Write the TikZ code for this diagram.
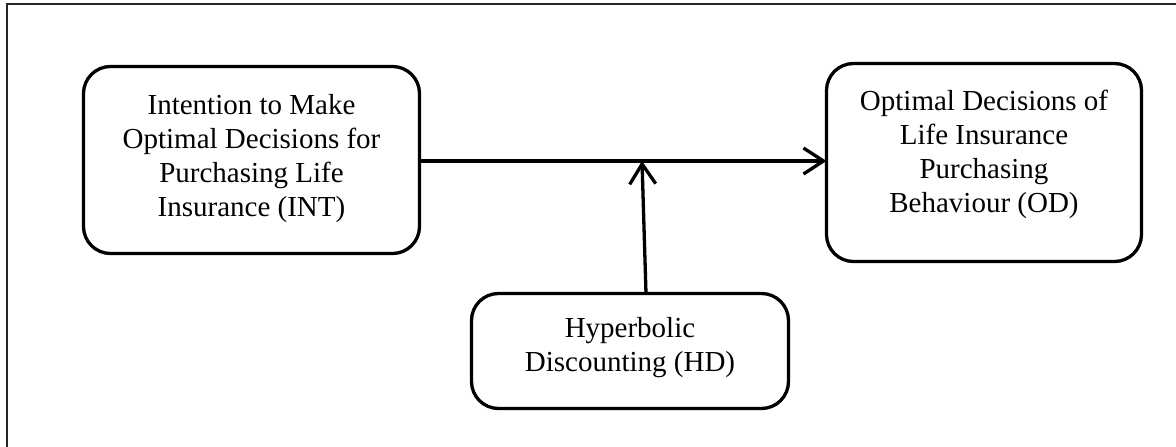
\documentclass[tikz,border=0pt]{standalone}
\usepackage{fontspec}
\setmainfont{Liberation Serif}
\usetikzlibrary{arrows.meta,calc}

% centred stack of lines, drawn #1 higher than its nominal box
\newcommand{\liftlines}[2]{\raisebox{#1}[\height][\depth]{\begin{tabular}{@{}c@{}}#2\end{tabular}}}

\tikzset{
  box/.style={draw=black, line width=3.3pt, rounded corners=27pt,
    inner sep=0pt, outer sep=0pt,
    font=\fontsize{29}{34}\selectfont},
  link/.style={draw=black, line width=3.3pt,
    -{Straight Barb[length=20pt,width=26pt,line width=3.3pt]}},
  frame/.style={draw=black!85, line width=1.5pt}
}

\begin{document}
\begin{tikzpicture}[x=1pt, y=-1pt]
  \useasboundingbox (0,0) rectangle (1176,447);

  % page frame (top and left edges)
  \coordinate (frameTR) at (1176,4);
  \coordinate (frameTL) at (7,4);
  \coordinate (frameBL) at (7,447);
  \draw[frame] (frameTR) -- (frameTL) -- (frameBL);

  % constructs
  \node[box, minimum width=336pt, minimum height=187pt] (int) at (251.5,160)
    {\liftlines{1pt}{Intention to Make\\Optimal Decisions for\\Purchasing Life\\Insurance (INT)}};
  \node[box, minimum width=315pt, minimum height=198pt] (od) at (984,162.5)
    {\liftlines{8pt}{Optimal Decisions of\\Life Insurance\\Purchasing\\Behaviour (OD)}};
  \node[box, minimum width=317pt, minimum height=115pt] (hd) at (630,351)
    {\liftlines{3pt}{Hyperbolic\\Discounting (HD)}};

  % direct path and moderating effect
  \draw[link] (int.east |- 0,161) -- (od.west |- 0,161);
  \coordinate (hdtop) at ($(hd.north)+(16,0)$);
  \coordinate (mod) at (642,161);
  \draw[link] (hdtop) -- (mod);
\end{tikzpicture}
\end{document}
